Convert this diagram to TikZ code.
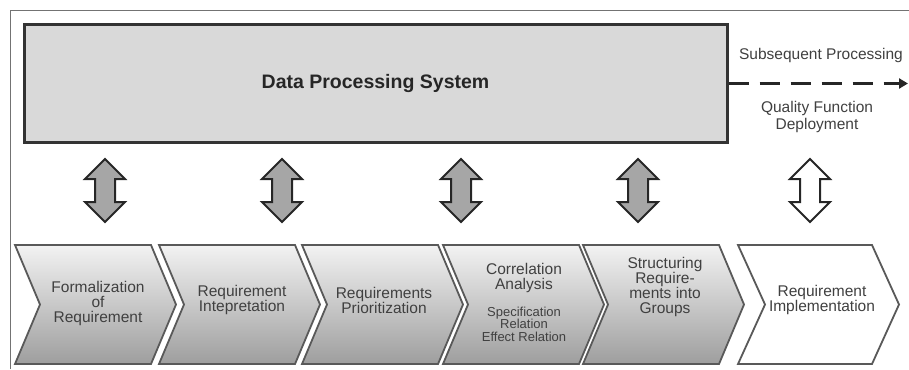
\documentclass[tikz,border=0pt]{standalone}
\usepackage{fontspec}
\setmainfont{Liberation Sans}
\usetikzlibrary{arrows.meta}
\definecolor{boxgray}{HTML}{D9D9D9}
\definecolor{arrowgray}{HTML}{A6A6A6}
\definecolor{edgegray}{HTML}{595959}
\definecolor{txtgray}{HTML}{404040}
\definecolor{titlegray}{HTML}{262626}
\newcommand{\smallsz}{\fontsize{13}{15}\selectfont}
\tikzset{
	frame/.style={draw=black!55, line width=1pt},
	system/.style={draw=black!80, line width=3pt, fill=boxgray, minimum width=703pt,
		minimum height=117pt, inner sep=0pt, text=titlegray,
		font=\fontsize{19.5}{23}\selectfont\bfseries},
	stage/.style={draw=edgegray, line width=1.8pt, top color=black!5, bottom color=black!38, line join=miter},
	laststage/.style={draw=edgegray, line width=1.8pt, fill=white, line join=miter},
	stagetext/.style={align=center, text=txtgray, inner sep=0pt, font=\fontsize{15.5}{15}\selectfont},
	updown/.style={draw=black!85, line width=2pt, fill=arrowgray, line join=miter},
	note/.style={align=center, text=txtgray, inner sep=0pt, font=\fontsize{15.5}{17}\selectfont},
	flow/.style={draw=black!85, line width=3pt, dash pattern=on 20pt off 11pt, -{Triangle[length=9pt,width=10pt]}}
}
\begin{document}
\begin{tikzpicture}[x=1pt,y=-1pt]
\useasboundingbox (0,0) rectangle (909,369);
\draw[frame] (10,369) -- (10,11) -- (909,11);
\node[system] (dps) at (375.5,83.5) {Data Processing System};
\coordinate (out) at (908,83.5);
\draw[flow] (dps.east) -- (out);
\node[note] (sub) at (821,55) {Subsequent Processing};
\node[note] (qfd) at (817,116.5) {Quality Function\\Deployment};

\draw[updown] (105,159) -- ++(20,20) -- ++(-10,0) -- ++(0,23) -- ++(10,0) -- ++(-20,20)
	-- ++(-20,-20) -- ++(10,0) -- ++(0,-23) -- ++(-10,0) -- cycle;
\draw[updown] (282,159) -- ++(20,20) -- ++(-10,0) -- ++(0,23) -- ++(10,0) -- ++(-20,20)
	-- ++(-20,-20) -- ++(10,0) -- ++(0,-23) -- ++(-10,0) -- cycle;
\draw[updown] (461,159) -- ++(20,20) -- ++(-10,0) -- ++(0,23) -- ++(10,0) -- ++(-20,20)
	-- ++(-20,-20) -- ++(10,0) -- ++(0,-23) -- ++(-10,0) -- cycle;
\draw[updown] (638,159) -- ++(20,20) -- ++(-10,0) -- ++(0,23) -- ++(10,0) -- ++(-20,20)
	-- ++(-20,-20) -- ++(10,0) -- ++(0,-23) -- ++(-10,0) -- cycle;
\draw[updown, fill=white] (810,159) -- ++(20,20) -- ++(-10,0) -- ++(0,23) -- ++(10,0) -- ++(-20,20)
	-- ++(-20,-20) -- ++(10,0) -- ++(0,-23) -- ++(-10,0) -- cycle;

\path[stage] (15,245) -- ++(136,0) -- ++(25,59.5) -- ++(-25,59.5) -- ++(-136,0) -- ++(25,-59.5) -- cycle;
\path[stage] (159,245) -- ++(136,0) -- ++(25,59.5) -- ++(-25,59.5) -- ++(-136,0) -- ++(25,-59.5) -- cycle;
\path[stage] (302,245) -- ++(136,0) -- ++(25,59.5) -- ++(-25,59.5) -- ++(-136,0) -- ++(25,-59.5) -- cycle;
\path[stage] (443,245) -- ++(136,0) -- ++(25,59.5) -- ++(-25,59.5) -- ++(-136,0) -- ++(25,-59.5) -- cycle;
\path[stage] (583,245) -- ++(136,0) -- ++(25,59.5) -- ++(-25,59.5) -- ++(-136,0) -- ++(25,-59.5) -- cycle;
\path[laststage] (738,245) -- ++(134,0) -- ++(27,59.5) -- ++(-27,59.5) -- ++(-134,0) -- ++(27,-59.5) -- cycle;

\node[stagetext] (formal) at (98,303) {Formalization\\of\\Requirement};
\node[stagetext] (interp) at (242,300) {Requirement\\Intepretation};
\node[stagetext] (prio) at (384,300) {Requirements\\Prioritization};
\node[stagetext] (corr) at (524,302) {Correlation\\Analysis\\[12pt]\smallsz Specification\\[-2.5pt]\smallsz Relation\\[-2.5pt]\smallsz Effect Relation};
\node[stagetext] (group) at (665,287) {Structuring\\Require-\\ments into\\Groups};
\node[stagetext] (impl) at (822,300) {Requirement\\Implementation};
\end{tikzpicture}
\end{document}
